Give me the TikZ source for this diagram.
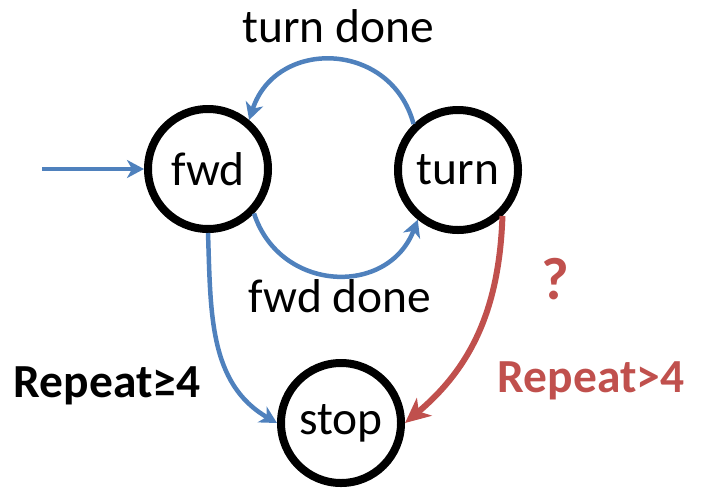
\documentclass[tikz,border=0pt]{standalone}
\usepackage{fontspec}
\setmainfont{Carlito}
\usetikzlibrary{arrows.meta}
\definecolor{stateblue}{RGB}{79,129,189}
\definecolor{statered}{RGB}{192,80,77}

\begin{document}
\begin{tikzpicture}[
    state/.style={shape=circle,draw=black,line width=0.16cm,minimum size=2.40cm,inner sep=0pt,font=\fontsize{27}{32}\selectfont},
    bluearrow/.style={draw=stateblue,line width=0.09cm,-{Stealth[length=0.34cm,width=0.36cm,inset=0.1cm]}},
    redarrow/.style={draw=statered,line width=0.12cm,-{Stealth[length=0.5cm,width=0.46cm,inset=0.14cm]}},
    lbl/.style={anchor=base,font=\fontsize{27}{32}\selectfont}]
    \useasboundingbox (0,0) rectangle (14.04,9.8);

    \node[state] (fwd) at (4.16,6.42) {fwd};
    \node[state] (turn) at (9.16,6.40) {turn};
    \node[state] (stop) at (6.82,1.34) {stop};
    \coordinate (start) at (0.84,6.42);

    \node[lbl] (turndone) at (6.76,8.96) {turn done};
    \node[lbl] (fwddone) at (6.80,3.56) {fwd done};
    \node[lbl,font=\fontsize{27}{32}\selectfont\bfseries] (repge) at (2.14,1.86) {Repeat≥4};
    \node[lbl,font=\fontsize{27}{32}\selectfont\bfseries,text=statered] (repgt) at (11.82,1.96) {Repeat>4};
    \node[lbl,font=\fontsize{34}{40}\selectfont\bfseries,text=statered] (ask) at (11.10,3.82) {?};

    \draw[bluearrow] (start) -- (fwd);
    \draw[bluearrow] (turn.134) to[out=105,in=72,distance=1.73cm] (fwd.50);
    \draw[bluearrow] (fwd.-44) to[out=-72,in=249,distance=1.66cm] (turn.231);
    \draw[bluearrow] (fwd.-90) to[out=-88,in=150] (stop.west);
    \draw[redarrow] (turn.-46) to[out=-92,in=40] (stop.east);
\end{tikzpicture}
\end{document}
